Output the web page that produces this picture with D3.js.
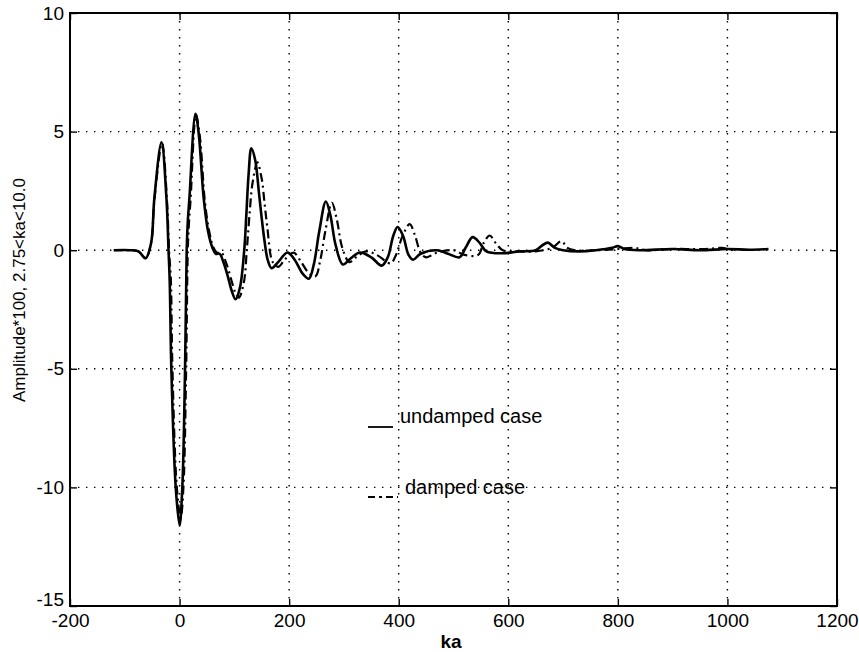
<!DOCTYPE html>
<html><head><meta charset="utf-8">
<script src="https://cdn.jsdelivr.net/npm/d3@7"></script>
<style>
body{margin:0;background:#fff;}
text{font-family:"Liberation Sans",Arial,Helvetica,sans-serif;fill:#000;}
</style></head>
<body>
<svg id="chart" width="859" height="652"></svg>
<script>
const xTicks = [-200, 0, 200, 400, 600, 800, 1000, 1200];
const yTicks = [-15, -10, -5, 0, 5, 10];
const xLabel = "ka";
const yLabel = "Amplitude*100, 2.75<ka<10.0";
const legendLabels = ["undamped case", "damped case"];

const undampedX = [-120,-90,-75,-62,-52,-46,-33,-24,-20,-18,-15,-7,0,5,10,13,15,18,29,35,44,52,60,66,73,80,88,95,102,110,118,122,126,131,138,145,149,155,161,168,180,197,210,225,236,245,255,267,275,285,298,312,329,350,369,380,390,398,408,418,426,440,469,490,511,522,535,548,560,590,620,650,662,672,685,700,730,760,790,800,812,840,900,950,1000,1040,1075];
const undampedY = [0,0,-0.05,-0.34,0.3,2.2,4.55,2.2,-0.1,-1.3,-5,-10,-11.6,-10,-5,0,1.2,2.2,5.75,4.9,2.2,0.8,0.1,-0.15,-0.15,-0.5,-1.1,-1.7,-2.07,-1.6,0,1.54,3.2,4.3,3.8,2.4,1.54,0.4,-0.42,-0.76,-0.5,-0.1,-0.4,-1.0,-1.2,-0.6,0.8,2.05,1.5,0.2,-0.6,-0.35,-0.1,-0.3,-0.65,-0.3,0.6,0.98,0.6,-0.2,-0.4,-0.15,0,-0.15,-0.3,0.1,0.55,0.3,-0.05,-0.13,-0.05,0,0.2,0.32,0.1,0,-0.05,0,0.1,0.17,0.05,0,0.05,0,0.05,0.02,0.05];

const dampedX = [-120,-90,-75,-62,-52,-46,-32,-23,-19,-16,-13,-5,2,7,12,15,17,20,30,37,46,54,62,68,76,86,95,102,108,117,123,128,133,142,150,155,160,170,180,192,208,222,237,248,257,266,278,287,297,310,322,340,360,385,395,407,420,430,440,450,470,500,520,545,555,566,577,590,620,650,680,697,708,720,760,800,830,850,900,960,990,1000,1010];
const dampedY = [0,0,-0.05,-0.33,0.3,2.1,4.5,2.1,-0.1,-1.2,-5,-10,-11.3,-10,-5,0,1.1,2.1,5.7,4.8,2.1,0.8,0.1,-0.1,-0.1,-0.6,-1.3,-1.8,-2.0,-1.4,0.1,1.6,2.8,3.7,3.0,2.0,1.0,-0.5,-0.7,-0.4,-0.1,-0.5,-1.0,-1.1,-0.4,0.8,2.0,1.3,0.1,-0.5,-0.3,-0.05,-0.2,-0.55,-0.2,0.6,1.1,0.6,-0.1,-0.3,-0.1,0,-0.2,-0.2,0.3,0.62,0.3,0,-0.05,-0.05,0.1,0.38,0.1,0,0,0.05,0.1,0,0.05,0.05,0.1,0.05,0];

const svg = d3.select("#chart");
const L = 70, R = 837, T = 13, B = 606;
const x = d3.scaleLinear().domain([-200, 1200]).range([L, R]);
const y = d3.scaleLinear().domain([-15, 10]).range([B, T]);
const fmt = d => String(d);  // plain hyphen-minus like the original

// grid
const grid = svg.append("g");
xTicks.slice(1, -1).forEach(v => {
  grid.append("line").attr("x1", x(v)).attr("x2", x(v)).attr("y1", T).attr("y2", B)
    .attr("stroke", "#000").attr("stroke-width", 1.4).attr("stroke-dasharray", "1.4,6.6");
});
yTicks.slice(1, -1).forEach(v => {
  grid.append("line").attr("x1", L).attr("x2", R).attr("y1", y(v)).attr("y2", y(v))
    .attr("stroke", "#000").attr("stroke-width", 1.4).attr("stroke-dasharray", "1.4,6.6");
});

// axes (inward ticks on all four sides)
const tl = 7;
svg.append("g").attr("transform", `translate(0,${B})`)
  .call(d3.axisBottom(x).tickValues(xTicks).tickSize(-tl).tickPadding(8).tickFormat(fmt))
  .call(g => { g.select(".domain").remove(); g.selectAll("text").attr("font-size", 19).attr("dy", "0.71em"); });
svg.append("g").attr("transform", `translate(0,${T})`)
  .call(d3.axisTop(x).tickValues(xTicks).tickSize(-tl).tickFormat(""))
  .call(g => g.select(".domain").remove());
svg.append("g").attr("transform", `translate(${L},0)`)
  .call(d3.axisLeft(y).tickValues(yTicks).tickSize(-tl).tickPadding(6).tickFormat(fmt))
  .call(g => {
    g.select(".domain").remove();
    g.selectAll("text").attr("font-size", 19);
    g.selectAll(".tick").filter(d => d === -15).select("text").attr("dy", "-0.05em");
  });
svg.append("g").attr("transform", `translate(${R},0)`)
  .call(d3.axisRight(y).tickValues(yTicks).tickSize(-tl).tickFormat(""))
  .call(g => g.select(".domain").remove());
svg.selectAll(".tick line").attr("stroke", "#000").attr("stroke-width", 1.4);

svg.append("rect").attr("x", L).attr("y", T).attr("width", R - L).attr("height", B - T)
  .attr("fill", "none").attr("stroke", "#000").attr("stroke-width", 2);

// curves
const line = d3.line().x(d => x(d[0])).y(d => y(d[1])).curve(d3.curveCatmullRom.alpha(0.5));
const und = undampedX.map((v, i) => [v, undampedY[i]]);
const dmp = dampedX.map((v, i) => [v, dampedY[i]]);
svg.append("path").datum(dmp).attr("d", line).attr("fill", "none").attr("stroke", "#000")
  .attr("stroke-width", 2.2).attr("stroke-dasharray", "9,4,2,4");
svg.append("path").datum(und).attr("d", line).attr("fill", "none").attr("stroke", "#000")
  .attr("stroke-width", 2.6);

// legend (gtext style)
svg.append("line").attr("x1", 368).attr("x2", 393).attr("y1", 427).attr("y2", 427)
  .attr("stroke", "#000").attr("stroke-width", 1.8);
svg.append("text").attr("x", 400).attr("y", 423).attr("font-size", 20).text(legendLabels[0]);
svg.append("line").attr("x1", 368).attr("x2", 398).attr("y1", 497).attr("y2", 497)
  .attr("stroke", "#000").attr("stroke-width", 1.8).attr("stroke-dasharray", "7,4,3,4");
svg.append("text").attr("x", 405).attr("y", 494).attr("font-size", 20).text(legendLabels[1]);

// axis labels
svg.append("text").attr("x", 451).attr("y", 648).attr("text-anchor", "middle")
  .attr("font-size", 19).attr("font-weight", "bold").text(xLabel);
svg.append("text").attr("transform", `translate(25,290) rotate(-90)`)
  .attr("text-anchor", "middle").attr("font-size", 17).text(yLabel);
</script>
</body></html>
